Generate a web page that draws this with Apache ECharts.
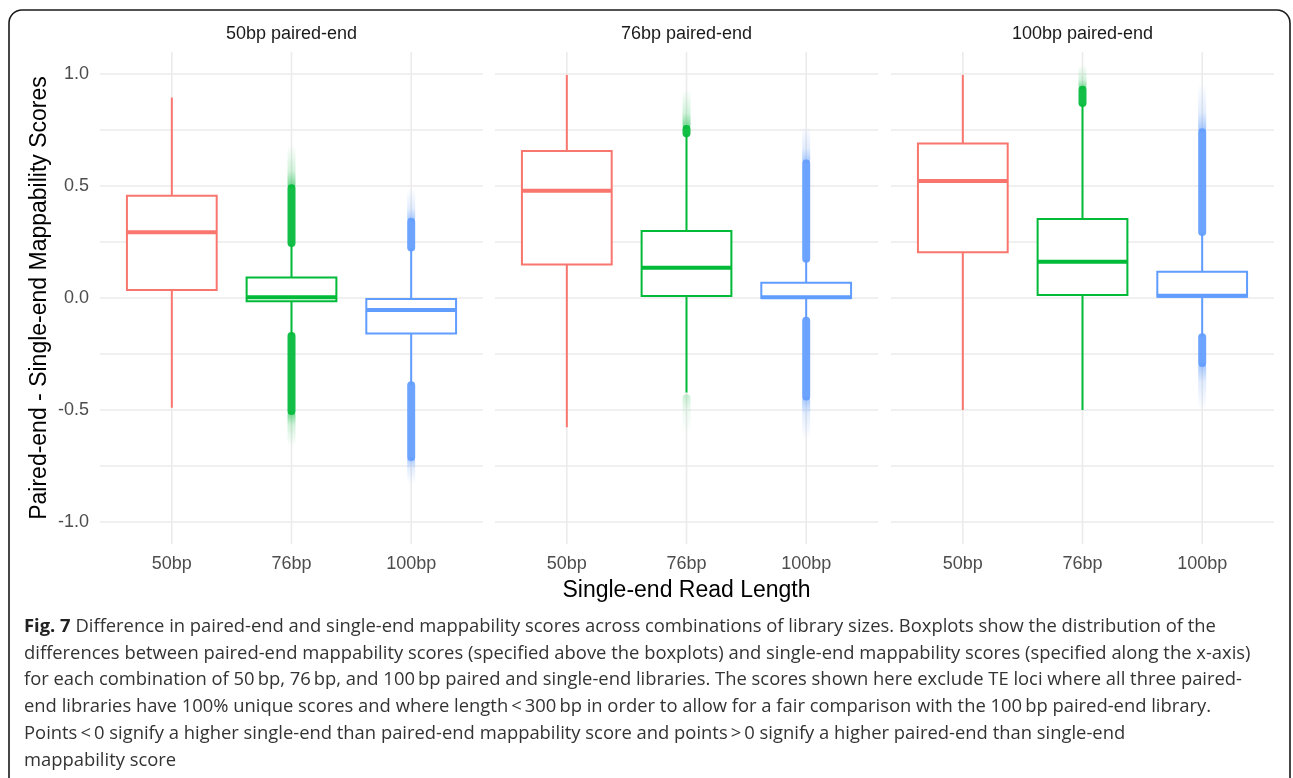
<!DOCTYPE html>
<html>
<head>
<meta charset="utf-8">
<script src="https://cdn.jsdelivr.net/npm/echarts@6/dist/echarts.min.js"></script>
<style>
  html, body { margin: 0; padding: 0; background: #ffffff; }
  #chart { width: 1293px; height: 778px; }
</style>
</head>
<body>
<div id="chart"></div>
<script>
// ---- data -------------------------------------------------------------
const panelTitles = ['50bp paired-end', '76bp paired-end', '100bp paired-end'];
const readLengths = ['50bp', '76bp', '100bp'];
const yTicks = [-1, -0.5, 0, 0.5, 1];

// Box statistics per single-end length: [lower whisker, Q1, median, Q3, upper whisker]
const box50pe  = [[-0.49, 0.036, 0.293, 0.457, 0.895],
                  [-0.165, -0.014, 0.003, 0.091, 0.238],
                  [-0.387, -0.158, -0.054, -0.004, 0.222]];
const box76pe  = [[-0.577, 0.150, 0.479, 0.656, 0.996],
                  [-0.422, 0.009, 0.135, 0.299, 0.730],
                  [-0.098, 0.000, 0.003, 0.068, 0.172]];
const box100pe = [[-0.500, 0.204, 0.522, 0.690, 0.996],
                  [-0.500, 0.013, 0.162, 0.353, 0.865],
                  [-0.172, 0.006, 0.010, 0.117, 0.290]];

// Outlier runs: [single-end index, first outlier, end of dense run, last sparse outlier]
const out50pe  = [[1, 0.245, 0.490, 0.680], [1, -0.170, -0.505, -0.660],
                  [2, 0.225, 0.340, 0.490], [2, -0.390, -0.710, -0.830]];
const out76pe  = [[1, 0.735, 0.755, 0.930], [1, -0.430, -0.430, -0.610],
                  [2, 0.175, 0.600, 0.770], [2, -0.102, -0.440, -0.630]];
const out100pe = [[1, 0.870, 0.930, 1.040],
                  [2, 0.295, 0.740, 0.960], [2, -0.175, -0.290, -0.500]];

const panelBoxes = [box50pe, box76pe, box100pe];
const panelOutliers = [out50pe, out76pe, out100pe];

// ---- styling ----------------------------------------------------------
const COLORS = ['#F8766D', '#00BA38', '#619CFF'];
const GRID_COLOR = '#EBEBEB';
const FONT = '"Liberation Sans", Arial, Helvetica, sans-serif';
const CAPTION_FONT = '"Open Sans", "Noto Sans", sans-serif';
const BOX_WIDTH = 0.75;          // in category units, as in a ggplot boxplot
const PANEL_LEFT = [100, 495, 891];
const PANEL_WIDTH = 383;
const PANEL_TOP = 74;
const PANEL_BOTTOM = 778 - 522;

function withAlpha(hex, a) {
  const n = parseInt(hex.slice(1), 16);
  return 'rgba(' + (n >> 16 & 255) + ',' + (n >> 8 & 255) + ',' + (n & 255) + ',' + a + ')';
}

// vertical grid line at each single-end length, running the full panel height
function renderVGrid(params, api) {
  const x = api.value(0);
  const top = api.coord([x, 1.098]);
  const bot = api.coord([x, -1.098]);
  return {
    type: 'line',
    shape: { x1: top[0], y1: top[1], x2: bot[0], y2: bot[1] },
    style: { stroke: GRID_COLOR, lineWidth: 1.6 }
  };
}

function renderBox(params, api) {
  const x = api.value(0);
  const c = COLORS[Math.round(x) - 1];
  const lo = api.coord([x, api.value(1)]);
  const q1 = api.coord([x, api.value(2)]);
  const md = api.coord([x, api.value(3)]);
  const q3 = api.coord([x, api.value(4)]);
  const hi = api.coord([x, api.value(5)]);
  const half = api.size([BOX_WIDTH, 0])[0] / 2;
  const lw = 2;
  return {
    type: 'group',
    children: [
      { type: 'line', shape: { x1: hi[0], y1: hi[1], x2: q3[0], y2: q3[1] },
        style: { stroke: c, lineWidth: lw } },
      { type: 'line', shape: { x1: q1[0], y1: q1[1], x2: lo[0], y2: lo[1] },
        style: { stroke: c, lineWidth: lw } },
      { type: 'rect', shape: { x: q3[0] - half, y: q3[1], width: half * 2, height: q1[1] - q3[1] },
        style: { stroke: c, fill: '#ffffff', lineWidth: lw } },
      { type: 'line', shape: { x1: md[0] - half, y1: md[1], x2: md[0] + half, y2: md[1] },
        style: { stroke: c, lineWidth: 4 } }
    ]
  };
}

// dense stack of translucent outlier points, fading out where they thin
function renderOutliers(params, api) {
  const x = api.value(0);
  const c = COLORS[Math.round(x) - 1];
  const a = api.coord([x, api.value(1)]);
  const b = api.coord([x, api.value(2)]);
  const f = api.coord([x, api.value(3)]);
  const w = 8;
  const up = f[1] < a[1];
  const children = [];
  if (Math.abs(b[1] - a[1]) > 0.5) {
    const coreTop = Math.min(a[1], b[1]) - w / 2;
    const coreH = Math.abs(b[1] - a[1]) + w;
    children.push({
      type: 'rect',
      shape: { x: a[0] - w / 2, y: coreTop, width: w, height: coreH, r: w / 2 },
      style: { fill: withAlpha(c, 0.92) }
    });
  }
  const peak = Math.abs(b[1] - a[1]) > 0.5 ? 0.6 : 0.22;
  const tTop = Math.min(b[1], f[1]);
  const tH = Math.abs(f[1] - b[1]);
  children.push({
    type: 'rect',
    shape: { x: a[0] - w / 2, y: tTop, width: w, height: tH, r: w / 2 },
    style: {
      fill: {
        type: 'linear', x: 0, y: 0, x2: 0, y2: 1,
        colorStops: up
          ? [{ offset: 0, color: withAlpha(c, 0) }, { offset: 0.6, color: withAlpha(c, peak * 0.3) }, { offset: 1, color: withAlpha(c, peak) }]
          : [{ offset: 0, color: withAlpha(c, peak) }, { offset: 0.4, color: withAlpha(c, peak * 0.3) }, { offset: 1, color: withAlpha(c, 0) }]
      }
    }
  });
  return { type: 'group', children: children };
}

const grids = [], xAxes = [], yAxes = [], series = [];
for (let p = 0; p < 3; p++) {
  grids.push({ left: PANEL_LEFT[p], width: PANEL_WIDTH, top: PANEL_TOP, bottom: PANEL_BOTTOM });
  xAxes.push({
    type: 'value', gridIndex: p, min: 0.4, max: 3.6,
    axisLine: { show: false }, axisTick: { show: false }, splitLine: { show: false },
    axisLabel: {
      customValues: [1, 2, 3],
      formatter: v => readLengths[Math.round(v) - 1] || '',
      margin: 33, fontSize: 18, color: '#4D4D4D', fontFamily: FONT
    },
    name: p === 1 ? 'Single-end Read Length' : '',
    nameLocation: 'middle', nameGap: 57,
    nameTextStyle: { fontSize: 23, color: '#000000', fontFamily: FONT }
  });
  yAxes.push({
    type: 'value', gridIndex: p, min: -1, max: 1, interval: 0.25,
    axisLine: { show: false }, axisTick: { show: false },
    splitLine: { show: true, lineStyle: { color: GRID_COLOR, width: 1.6 } },
    axisLabel: {
      show: p === 0, margin: 11, fontSize: 18, color: '#4D4D4D', fontFamily: FONT,
      formatter: v => yTicks.some(t => Math.abs(t - v) < 1e-9) ? v.toFixed(1) : ''
    },
    name: p === 0 ? 'Paired-end - Single-end Mappability Scores' : '',
    nameLocation: 'middle', nameGap: 49, nameRotate: 90,
    nameTextStyle: { fontSize: 23, color: '#000000', fontFamily: FONT }
  });
  series.push({
    type: 'custom', xAxisIndex: p, yAxisIndex: p, clip: false, silent: true, z: 1,
    renderItem: renderVGrid,
    data: readLengths.map((_, i) => [i + 1])
  });
  series.push({
    type: 'custom', xAxisIndex: p, yAxisIndex: p, silent: true, z: 2,
    renderItem: renderBox,
    encode: { x: 0, y: [1, 2, 3, 4, 5] },
    data: panelBoxes[p].map((b, i) => [i + 1].concat(b))
  });
  series.push({
    type: 'custom', xAxisIndex: p, yAxisIndex: p, clip: false, silent: true, z: 3,
    renderItem: renderOutliers,
    encode: { x: 0, y: [1, 2, 3] },
    data: panelOutliers[p].map(o => [o[0] + 1, o[1], o[2], o[3]])
  });
}

const caption =
  '{b|Fig. 7} Difference in paired-end and single-end mappability scores across combinations of library sizes. Boxplots show the distribution of the\n' +
  'differences between paired-end mappability scores (specified above the boxplots) and single-end mappability scores (specified along the x-axis)\n' +
  'for each combination of 50\u2009bp, 76\u2009bp, and 100\u2009bp paired and single-end libraries. The scores shown here exclude TE loci where all three paired-\n' +
  'end libraries have 100% unique scores and where length\u2009<\u2009300\u2009bp in order to allow for a fair comparison with the 100\u2009bp paired-end library.\n' +
  'Points\u2009<\u20090 signify a higher single-end than paired-end mappability score and points\u2009>\u20090 signify a higher paired-end than single-end\n' +
  'mappability score';

const graphics = [
  {
    type: 'rect', silent: true, z: 0,
    shape: { x: 9, y: 10, width: 1281, height: 820, r: 13 },
    style: { fill: 'none', stroke: '#1a1a1a', lineWidth: 1.6 }
  },
  {
    type: 'text', x: 24, y: 613, silent: true,
    style: {
      text: caption, fontSize: 18.4, lineHeight: 26.9, fill: '#333333',
      fontFamily: CAPTION_FONT,
      rich: { b: { fontWeight: 'bold', fontSize: 18.4, fill: '#222222', fontFamily: CAPTION_FONT } }
    }
  }
];
panelTitles.forEach((t, p) => {
  graphics.push({
    type: 'text', x: PANEL_LEFT[p] + PANEL_WIDTH / 2, y: 34, silent: true,
    style: { text: t, fontSize: 18, fill: '#1A1A1A', fontFamily: FONT, align: 'center', verticalAlign: 'middle' }
  });
});

const chart = echarts.init(document.getElementById('chart'), null, { renderer: 'canvas' });
chart.setOption({
  animation: false,
  backgroundColor: '#ffffff',
  grid: grids,
  xAxis: xAxes,
  yAxis: yAxes,
  series: series,
  graphic: graphics
});
</script>
</body>
</html>
